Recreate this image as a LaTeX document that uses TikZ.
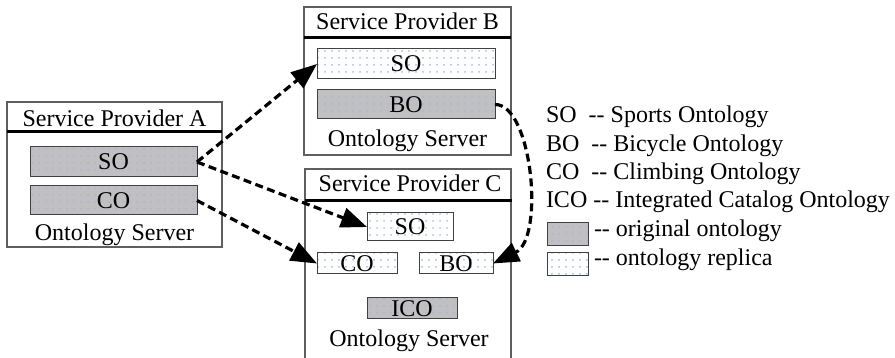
\documentclass[tikz,border=0pt]{standalone}
\usepackage{fontspec}
\setmainfont{Liberation Serif}[Ligatures=TeX]
\usetikzlibrary{arrows.meta,patterns.meta}
\definecolor{origfill}{RGB}{192,192,194}
\definecolor{origdot}{RGB}{170,180,212}
\definecolor{repdot}{RGB}{165,185,230}
\definecolor{framecol}{RGB}{95,95,95}
\tikzset{
 every node/.style={font=\rmfamily\fontsize{24}{28}\selectfont, inner sep=0pt, outer sep=0pt},
 outerbox/.style={draw=framecol, line width=1.2pt},
 orig/.style={draw=black!75, line width=1pt, preaction={fill=origfill}, pattern={Dots[distance=6.5pt,radius=1pt]}, pattern color=origdot},
 repl/.style={draw=black!75, line width=1pt, preaction={fill=white}, pattern={Dots[distance=6.5pt,radius=1pt]}, pattern color=repdot},
 header/.style={line width=3pt, black},
 link/.style={line width=3.2pt, dash pattern=on 8pt off 4.5pt, -{Triangle[length=26pt,width=20pt]}},
 lbl/.style={anchor=base},
 legendtext/.style={anchor=base west},
}
\begin{document}
\begin{tikzpicture}[x=1pt,y=-1pt]
\useasboundingbox (0,0) rectangle (895,358);
% outer boxes
\node[outerbox, minimum width=215pt, minimum height=145pt] (boxA) at (114.5,174.5) {};
\node[outerbox, minimum width=207pt, minimum height=148pt] (boxB) at (407.5,81) {};
\node[minimum width=206pt, minimum height=189pt] (boxC) at (408,263.5) {};
\draw[outerbox] (boxC.south west) -- (boxC.north west) -- (boxC.north east) -- (boxC.south east);
% header lines
\draw[header] (7,132) -- (222,132);
\draw[header] (304,38) -- (511,38);
\draw[header] (305,201) -- (512,201);
% titles
\node[lbl] (tA) at (114.5,127) {Service Provider A};
\node[lbl] (sA) at (114.5,241) {Ontology Server};
\node[lbl] (tB) at (407.5,30) {Service Provider B};
\node[lbl] (sB) at (407.5,147) {Ontology Server};
\node[lbl] (tC) at (410,192) {Service Provider C};
\node[lbl] (sC) at (409,347) {Ontology Server};
% inner boxes
\node[orig, minimum width=167pt, minimum height=30pt] (aSO) at (113.5,162) {SO};
\node[orig, minimum width=167pt, minimum height=29pt] (aCO) at (113.5,200.5) {CO};
\node[repl, minimum width=178pt, minimum height=30pt] (bSO) at (406,64) {SO};
\node[orig, minimum width=178pt, minimum height=29pt] (bBO) at (406,104.5) {BO};
\node[repl, minimum width=86pt, minimum height=28pt] (cSO) at (410,227) {SO};
\node[repl, minimum width=80pt, minimum height=21pt] (cCO) at (357,263.5) {CO};
\node[repl, minimum width=74pt, minimum height=21pt] (cBO) at (456,263.5) {BO};
\node[orig, minimum width=90pt, minimum height=21pt] (cICO) at (412,308.5) {ICO};
% connectors
\draw[link] (aSO.east) -- (bSO.west);
\draw[link] (aSO.east) -- (cSO.west);
\draw[link] (aCO.east) -- (cCO.west);
\draw[link] (bBO.east) .. controls (532,104) and (545,238) .. (cBO.east);
% legend
\node[legendtext] (l1) at (546,123) {SO\ \ -{}- Sports Ontology};
\node[legendtext] (l2) at (546,152) {BO\ \ -{}- Bicycle Ontology};
\node[legendtext] (l3) at (546,180) {CO\ \ -{}- Climbing Ontology};
\node[legendtext] (l4) at (546,208) {ICO -{}- Integrated Catalog Ontology};
\node[orig, minimum width=41pt, minimum height=23pt] (lgO) at (567.5,234.5) {};
\node[repl, minimum width=41pt, minimum height=23pt] (lgR) at (567.5,264.5) {};
\node[legendtext] (l5) at (594,237) {-{}- original ontology};
\node[legendtext] (l6) at (594,266) {-{}- ontology replica};
\end{tikzpicture}
\end{document}
